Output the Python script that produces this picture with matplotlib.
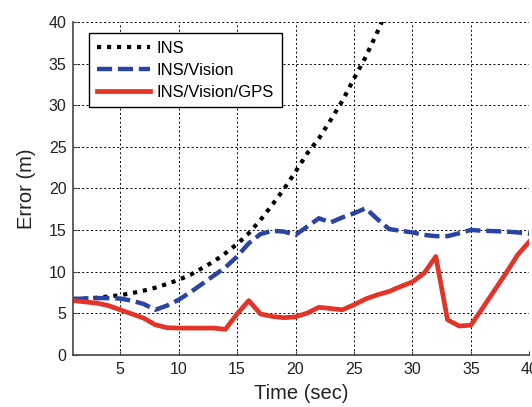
import matplotlib
matplotlib.use("Agg")
import matplotlib.pyplot as plt
import numpy as np

plt.rcParams['font.family'] = ['Liberation Sans', 'DejaVu Sans']

time_ins = list(range(1, 29))
err_ins = [6.7, 6.75, 6.85, 7.0, 7.15, 7.4, 7.7, 8.05, 8.5, 9.0, 9.6, 10.4, 11.2, 12.2,
           13.3, 14.6, 16.2, 18.0, 19.9, 22.0, 24.2, 26.0, 28.2, 30.5, 33.2, 35.8, 38.8, 42.0]

time = list(range(1, 41))
err_vision = [6.7, 6.75, 6.8, 6.8, 6.75, 6.5, 6.1, 5.4, 5.9, 6.6, 7.5, 8.5, 9.5, 10.5,
              11.8, 13.4, 14.5, 14.9, 14.8, 14.4, 15.4, 16.4, 15.9, 16.5, 17.0, 17.6, 16.3,
              15.1, 14.9, 14.7, 14.4, 14.25, 14.25, 14.6, 15.0, 14.9, 14.85, 14.8, 14.7, 14.55]
err_gps = [6.5, 6.35, 6.2, 5.9, 5.4, 4.9, 4.4, 3.6, 3.25, 3.2, 3.2, 3.2, 3.2, 3.05,
           4.9, 6.5, 4.9, 4.6, 4.45, 4.55, 5.0, 5.7, 5.55, 5.4, 6.0, 6.7, 7.2, 7.6,
           8.2, 8.75, 9.8, 11.8, 4.2, 3.45, 3.55, 5.6, 7.7, 9.8, 12.0, 13.6]

labels = ["INS", "INS/Vision", "INS/Vision/GPS"]
xticks = [5, 10, 15, 20, 25, 30, 35, 40]
yticks = [0, 5, 10, 15, 20, 25, 30, 35, 40]

fig = plt.figure(figsize=(5.32, 4.07), dpi=100)
ax = fig.add_axes([0.138, 0.1285, 0.857, 0.8175])

ax.plot(time_ins, err_ins, color='black', lw=3.0, linestyle=(0, (1, 1.4)), label=labels[0])
ax.plot(time, err_vision, color='#2b44a3', lw=3.2, linestyle=(0, (3.4, 1.3)), label=labels[1])
ax.plot(time, err_gps, color='#e3342a', lw=3.4, label=labels[2])

ax.set_xlim(1, 40)
ax.set_ylim(0, 40)
ax.set_xticks(xticks)
ax.set_yticks(yticks)
ax.grid(True, color='black', linestyle=(0, (2, 2.5)), lw=0.7)
ax.set_axisbelow(True)

for s in ['top', 'right']:
    ax.spines[s].set_visible(False)
for s in ['left', 'bottom']:
    ax.spines[s].set_color('#444444')
    ax.spines[s].set_linewidth(1.2)

ax.tick_params(direction='in', length=3, labelsize=11.5, colors='#444444', labelcolor='#222222', pad=5)

ax.set_xlabel("Time (sec)", fontsize=14.5, color='#222222', labelpad=5)
ax.set_ylabel("Error (m)", fontsize=14.5, color='#222222', labelpad=9)

leg = ax.legend(loc='upper left', bbox_to_anchor=(0.035, 0.966), borderaxespad=0,
                fontsize=12, handlelength=3.2, handletextpad=0.4, borderpad=0.45,
                labelspacing=0.42, fancybox=False, framealpha=1, edgecolor='black')
leg.get_frame().set_linewidth(1.0)

fig.savefig("out.png", dpi=100)
